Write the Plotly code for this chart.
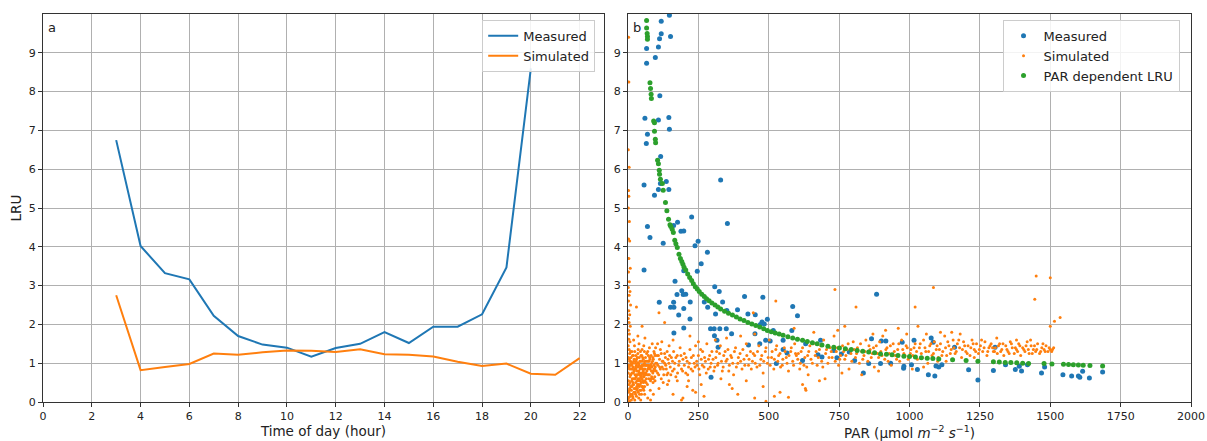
import plotly.graph_objects as go

# ---------------- Panel a data ----------------
hours_measured = [3, 4, 5, 6, 7, 8, 9, 10, 11, 12, 13, 14, 15, 16, 17, 18, 19, 20]
lru_measured_hourly = [6.75, 4.02, 3.32, 3.16, 2.22, 1.70, 1.48, 1.40, 1.17, 1.39, 1.50, 1.80,
                       1.52, 1.94, 1.94, 2.26, 3.47, 8.60]
hours_simulated = [3, 4, 5, 6, 7, 8, 9, 10, 11, 12, 13, 14, 15, 16, 17, 18, 19, 20, 21, 22]
lru_simulated_hourly = [2.75, 0.82, 0.90, 0.98, 1.25, 1.22, 1.28, 1.33, 1.32, 1.29, 1.36, 1.23,
                        1.22, 1.17, 1.04, 0.93, 0.99, 0.73, 0.70, 1.13]

# ---------------- Panel b data ----------------
measured_points = [
    (147, 9.97), (118, 9.81), (118, 9.49), (151, 9.42), (112, 9.36), (108, 9.15), (66, 9.11),
    (97, 8.88), (66, 8.73), (113, 7.89), (60, 7.31), (145, 7.33), (108, 7.27), (147, 7.03),
    (69, 6.90), (65, 6.66), (116, 6.33), (329, 5.72), (57, 5.59), (136, 5.68), (115, 5.63),
    (108, 5.48), (145, 5.48), (94, 5.33), (353, 4.60), (226, 4.77), (69, 4.52), (176, 4.63),
    (162, 4.55), (188, 4.40), (198, 4.41), (78, 4.24), (125, 4.09), (249, 4.14), (238, 4.03),
    (57, 3.40), (282, 3.86), (260, 3.56), (198, 3.38), (246, 3.37), (167, 3.11), (308, 2.97),
    (324, 2.85), (191, 2.87), (174, 2.77), (196, 2.77), (205, 2.78), (479, 2.70), (414, 2.72),
    (883, 2.78), (111, 2.57), (162, 2.57), (271, 2.58), (336, 2.58), (221, 2.58), (151, 2.44),
    (163, 2.44), (283, 2.44), (585, 2.46), (198, 2.41), (389, 2.38), (180, 2.24), (311, 2.27),
    (351, 2.36), (426, 2.27), (452, 2.25), (602, 2.22), (220, 2.14), (495, 2.13), (476, 2.06),
    (484, 2.01), (470, 2.00), (163, 1.78), (198, 1.91), (293, 1.89), (306, 1.89), (326, 1.89),
    (349, 1.89), (307, 1.71), (368, 1.76), (451, 1.76), (516, 1.84), (582, 1.84), (489, 1.59),
    (468, 1.50), (505, 1.57), (316, 1.59), (320, 1.41), (428, 1.47), (551, 1.59), (684, 1.59),
    (865, 1.63), (900, 1.57), (916, 1.57), (974, 1.54), (1016, 1.59), (1077, 1.65), (1084, 1.54),
    (1160, 1.41), (1304, 1.41), (295, 0.64), (836, 0.75), (1210, 0.83), (1243, 0.57), (1298, 0.81),
    (1376, 0.84), (1398, 0.80), (1469, 0.75), (1480, 0.90), (1545, 0.70), (1576, 0.67), (1600, 0.67),
    (1605, 0.64), (1615, 0.79), (1639, 0.62), (1686, 0.77), (1067, 0.70), (1090, 0.67), (1028, 0.84),
    (979, 0.87), (933, 1.00), (897, 0.99), (855, 0.99), (805, 1.07), (742, 1.14), (675, 1.22),
    (758, 1.24), (689, 1.16), (565, 1.26), (620, 1.07), (527, 0.99), (980, 0.92), (1007, 0.96),
    (1104, 0.90), (1115, 0.96), (1094, 0.93), (1341, 0.96), (1390, 0.92), (1419, 0.96), (731, 1.33),
    (786, 1.29), (631, 1.50), (551, 1.35),
]

simulated_points = [
    # strip along the axis
    (2, 9.4), (3, 8.25), (1, 6.5), (4, 6.05), (2, 5.45), (3, 5.3), (1, 5.0), (5, 4.65), (2, 4.2),
    (6, 4.15), (3, 3.7), (8, 3.45), (2, 3.35), (5, 3.1), (1, 2.95), (7, 2.85), (4, 2.75), (2, 2.6),
    (9, 2.5), (3, 2.35), (6, 2.25), (1, 2.15), (4, 2.05), (8, 1.95), (2, 1.85), (5, 1.75), (3, 1.62),
    (7, 1.55), (1, 1.45), (4, 1.35), (6, 1.25), (2, 1.15), (9, 1.05), (3, 0.95), (5, 0.85), (1, 0.75),
    (7, 0.65), (2, 0.55), (4, 0.45), (6, 0.35), (3, 0.25), (8, 0.15), (1, 0.08), (5, 0.02),
    # 10-100
    (12, 0.3), (15, 0.6), (18, 0.9), (20, 0.45), (22, 1.1), (25, 0.7), (27, 0.2), (30, 0.95), (32, 0.55),
    (35, 1.25), (38, 0.8), (40, 0.4), (42, 1.05), (45, 0.65), (48, 0.9), (50, 1.35), (52, 0.75),
    (55, 0.5), (58, 1.0), (60, 0.85), (62, 1.15), (65, 0.6), (68, 0.95), (70, 1.3), (72, 0.7),
    (75, 1.05), (78, 0.85), (80, 0.55), (82, 1.2), (85, 0.9), (88, 0.75), (90, 1.1), (92, 0.95),
    (95, 0.65), (98, 1.4), (14, 1.3), (16, 0.15), (19, 0.75), (23, 1.45), (26, 0.35), (29, 0.65),
    (33, 1.15), (36, 0.25), (39, 1.5), (43, 0.85), (46, 0.3), (49, 1.2), (53, 0.95), (56, 1.45),
    (59, 0.4), (63, 0.75), (66, 1.25), (69, 0.45), (73, 0.9), (76, 1.4), (79, 0.3), (83, 0.8),
    (86, 1.5), (89, 0.5), (93, 0.85), (96, 1.2), (11, 0.85), (13, 0.55), (17, 1.0), (21, 0.25),
    (24, 0.85), (28, 1.2), (31, 0.4), (34, 0.7), (37, 1.0), (41, 0.6), (44, 1.3), (47, 0.5),
    (51, 1.05), (54, 0.8), (57, 0.65), (61, 1.05), (64, 0.95), (67, 0.8), (71, 1.05), (74, 0.6),
    (77, 1.15), (81, 0.95), (84, 0.65), (87, 1.05), (91, 0.8), (94, 1.25), (97, 0.9), (20, 1.6),
    (35, 1.7), (60, 1.65), (45, 0.05), (70, 0.1), (90, 0.2), (30, 2.45), (50, 1.95), (80, 0.05),
    # dense corner
    (3, 0.12), (5, 0.3), (7, 0.5), (9, 0.2), (10, 0.7), (12, 0.05), (14, 0.4), (16, 0.85), (18, 0.1),
    (20, 0.6), (22, 0.35), (24, 0.05), (26, 1.0), (28, 0.5), (30, 0.15), (32, 0.8), (34, 0.45),
    (36, 0.6), (38, 0.1), (40, 0.95), (42, 0.3), (44, 0.55), (46, 0.75), (48, 0.2), (50, 0.6),
    (52, 0.4), (54, 1.1), (56, 0.3), (58, 0.75), (60, 0.55), (4, 0.9), (6, 1.05), (8, 0.7),
    (11, 1.15), (13, 0.95), (15, 0.2), (17, 0.45), (19, 1.2), (21, 0.8), (23, 0.6), (25, 0.25),
    (27, 0.9), (29, 1.05), (31, 0.7), (33, 0.35), (35, 0.9), (37, 0.45), (39, 0.75), (41, 0.2),
    (43, 0.45), (45, 1.05), (47, 0.7), (49, 0.4), (51, 0.85), (53, 0.55), (55, 0.7), (57, 0.95),
    (59, 0.2),
    (5, 1.1), (7, 0.95), (9, 1.3), (10, 0.4), (12, 1.0), (14, 0.75), (16, 1.2), (18, 0.5), (20, 1.05),
    (22, 0.8), (24, 1.3), (26, 0.6), (28, 0.85), (30, 1.1), (32, 0.3), (34, 1.0), (36, 1.35),
    (38, 0.55), (40, 1.15), (42, 0.7), (44, 0.9), (46, 1.2), (48, 0.65), (50, 0.95), (52, 1.15),
    (54, 0.35), (56, 0.85), (58, 1.3), (60, 0.7), (62, 0.95), (64, 0.5), (66, 1.05), (68, 0.7),
    (70, 0.85), (72, 1.2), (74, 0.95), (76, 0.7), (78, 1.1), (80, 0.9), (82, 0.6), (84, 1.0),
    (86, 0.8), (88, 1.15), (90, 0.6), (92, 1.3), (94, 0.85), (96, 0.55), (98, 1.0), (100, 0.8),
    (103, 1.2), (106, 0.95), (109, 0.7), (112, 1.1), (115, 0.85), (118, 1.25), (121, 0.9),
    (124, 1.05), (127, 0.7), (130, 1.0), (133, 1.15), (136, 0.85), (139, 1.3), (142, 0.75),
    (145, 1.0), (148, 1.2),
    # 100-300
    (102, 1.0), (105, 0.75), (108, 1.2), (112, 0.9), (115, 1.35), (118, 0.6), (122, 1.05), (126, 0.85),
    (130, 1.25), (134, 0.95), (138, 0.7), (142, 1.1), (146, 1.45), (150, 0.9), (154, 1.15), (158, 0.8),
    (162, 1.3), (166, 1.0), (170, 0.65), (175, 1.2), (180, 0.95), (185, 1.4), (190, 0.85), (195, 1.1),
    (200, 1.25), (205, 0.75), (210, 1.05), (215, 0.9), (220, 1.35), (225, 1.15), (230, 0.8), (235, 1.0),
    (240, 1.45), (245, 0.95), (250, 1.2), (255, 0.7), (260, 1.1), (265, 1.3), (270, 0.9), (275, 1.05),
    (280, 1.5), (285, 0.85), (290, 1.2), (295, 1.0), (110, 0.35), (125, 0.5), (140, 0.45), (160, 0.2),
    (175, 0.55), (195, 0.1), (210, 0.4), (230, 0.3), (260, 0.45), (270, 0.15), (160, 1.6), (220, 1.7),
    (250, 1.55), (110, 2.3), (130, 2.05), (190, 0.05), (240, 0.25), (215, 0.55), (105, 1.5), (120, 1.55),
    (145, 0.55),
    (152, 0.7), (158, 1.05), (164, 0.85), (170, 1.15), (176, 0.75), (182, 1.05), (188, 1.2), (194, 0.8),
    (200, 0.95), (206, 1.15), (212, 0.7), (218, 1.0), (224, 0.85), (232, 1.2), (238, 0.9), (244, 1.05),
    (252, 0.85), (258, 1.35), (264, 0.95), (272, 1.15), (278, 0.75), (286, 1.1), (292, 0.9), (298, 1.3),
    # 300-600
    (302, 1.1), (308, 0.9), (315, 1.3), (320, 1.0), (328, 1.45), (335, 0.8), (340, 1.2), (348, 1.05),
    (355, 1.35), (360, 0.95), (368, 1.15), (375, 0.7), (382, 1.4), (390, 1.0), (398, 1.25), (405, 0.85),
    (412, 1.1), (420, 1.5), (428, 0.95), (435, 1.3), (442, 1.05), (450, 1.2), (458, 0.9), (465, 1.45),
    (472, 1.1), (480, 0.75), (488, 1.3), (495, 1.0), (502, 1.6), (510, 1.15), (518, 0.85), (525, 1.35),
    (532, 1.05), (540, 1.25), (548, 0.95), (555, 1.4), (562, 1.15), (570, 0.8), (578, 1.3), (585, 1.05),
    (592, 1.5), (598, 1.2), (310, 1.6), (350, 1.65), (400, 1.7), (450, 1.75), (330, 0.6), (370, 0.35),
    (390, 0.2), (450, 0.1), (490, 0.02), (520, 0.15), (540, 0.25), (570, 0.12), (630, 0.35), (632, 0.3),
    (480, 0.4), (420, 0.55), (360, 0.45), (525, 2.6), (445, 2.3), (590, 1.9),
    (305, 0.8), (312, 1.15), (318, 0.95), (325, 1.25), (332, 1.05), (338, 0.9), (345, 1.3), (352, 1.1),
    (358, 0.8), (365, 1.2), (372, 1.0), (378, 1.3), (385, 0.9), (392, 1.15), (400, 1.05), (408, 1.35),
    (415, 0.95), (422, 1.2), (430, 1.1), (438, 0.85), (445, 1.25), (452, 1.0), (460, 1.3), (468, 0.95),
    (475, 1.2), (482, 1.05), (490, 1.4), (498, 1.15), (505, 0.95), (512, 1.3), (520, 1.1), (528, 1.45),
    (535, 1.2), (542, 0.9), (550, 1.1), (558, 1.3), (565, 1.0), (572, 1.2), (580, 1.4), (588, 0.95),
    (595, 1.25),
    # 600-1000
    (605, 1.25), (612, 1.0), (620, 1.4), (628, 1.15), (635, 0.9), (642, 1.3), (650, 1.1), (658, 1.5),
    (665, 1.2), (672, 0.95), (680, 1.35), (688, 1.05), (695, 1.6), (702, 1.25), (710, 1.0), (718, 1.4),
    (725, 1.15), (732, 1.7), (740, 1.3), (748, 0.95), (755, 1.2), (762, 1.45), (770, 1.1), (778, 1.35),
    (785, 0.85), (792, 1.25), (800, 1.55), (808, 1.15), (815, 1.4), (822, 1.0), (830, 1.3), (838, 1.2),
    (845, 1.6), (852, 1.05), (860, 1.35), (868, 1.25), (875, 0.9), (882, 1.45), (890, 1.15), (898, 1.3),
    (905, 1.7), (912, 1.1), (920, 1.4), (928, 1.25), (935, 0.95), (942, 1.5), (950, 1.2), (958, 1.35),
    (965, 1.05), (972, 1.6), (980, 1.25), (988, 1.45), (995, 1.1), (640, 0.7), (700, 0.6), (760, 0.75),
    (620, 0.45), (680, 0.55), (830, 0.7), (890, 0.8), (660, 1.8), (745, 1.85), (735, 2.9), (810, 2.45),
    (770, 1.95), (915, 1.85), (960, 1.9), (870, 1.75), (990, 1.75), (610, 0.85),
    (603, 1.1), (615, 1.3), (625, 0.95), (638, 1.2), (646, 1.45), (655, 1.0), (668, 1.3), (676, 1.15),
    (685, 1.45), (692, 0.9), (705, 1.35), (714, 1.15), (722, 1.3), (736, 1.05), (744, 1.4), (752, 1.1),
    (766, 1.3), (774, 1.2), (782, 1.5), (795, 1.05), (804, 1.35), (812, 1.25), (826, 1.5), (834, 1.1),
    (842, 1.3), (856, 1.45), (864, 1.15), (872, 1.4), (886, 1.25), (894, 1.55), (902, 1.2), (916, 1.35),
    (924, 1.05), (932, 1.45), (946, 1.3), (954, 1.1), (962, 1.5), (976, 1.35), (984, 1.2), (992, 1.4),
    # 1000-1300
    (1005, 1.35), (1012, 1.2), (1020, 1.5), (1028, 1.1), (1035, 1.4), (1042, 1.25), (1050, 1.6),
    (1058, 1.3), (1065, 1.0), (1072, 1.45), (1080, 1.2), (1088, 1.55), (1095, 1.35), (1102, 1.15),
    (1110, 1.5), (1118, 1.3), (1125, 1.7), (1132, 1.2), (1140, 1.45), (1148, 1.35), (1155, 1.6),
    (1162, 1.25), (1170, 1.5), (1178, 1.4), (1185, 1.15), (1192, 1.55), (1200, 1.3), (1208, 1.45),
    (1215, 1.2), (1222, 1.6), (1230, 1.35), (1238, 1.5), (1245, 1.25), (1252, 1.45), (1260, 1.3),
    (1268, 1.55), (1275, 1.2), (1282, 1.4), (1290, 1.5), (1298, 1.3), (1085, 2.95), (1020, 2.45),
    (1030, 1.95), (1060, 1.75), (1110, 1.8), (1150, 1.8), (1180, 1.75), (1010, 0.85), (1050, 0.9),
    (1100, 1.05), (1230, 1.15), (1130, 1.05),
    (1003, 1.25), (1016, 1.4), (1025, 1.3), (1038, 1.5), (1046, 1.15), (1055, 1.4), (1068, 1.3),
    (1076, 1.5), (1085, 1.25), (1098, 1.45), (1106, 1.35), (1115, 1.2), (1128, 1.4), (1136, 1.55),
    (1145, 1.25), (1158, 1.4), (1166, 1.3), (1175, 1.6), (1188, 1.35), (1196, 1.45), (1205, 1.25),
    (1218, 1.4), (1226, 1.5), (1235, 1.3), (1248, 1.35), (1256, 1.6), (1265, 1.4), (1278, 1.3),
    (1286, 1.45), (1295, 1.4),
    # 1300-1540
    (1305, 1.4), (1312, 1.25), (1320, 1.5), (1328, 1.35), (1335, 1.2), (1342, 1.45), (1350, 1.3),
    (1358, 1.55), (1365, 1.4), (1372, 1.25), (1380, 1.35), (1388, 1.5), (1395, 1.2), (1402, 1.4),
    (1410, 1.3), (1418, 1.55), (1425, 1.25), (1432, 1.45), (1440, 1.35), (1448, 1.3), (1455, 1.5),
    (1462, 1.25), (1470, 1.4), (1478, 1.35), (1485, 1.45), (1492, 1.3), (1500, 1.35), (1508, 1.35),
    (1450, 3.25), (1500, 3.2), (1445, 2.65), (1500, 1.95), (1515, 2.08), (1535, 2.18), (1310, 1.65),
    (1380, 1.6), (1430, 1.6),
    (1302, 1.3), (1316, 1.45), (1324, 1.3), (1332, 1.5), (1346, 1.35), (1354, 1.25), (1362, 1.5),
    (1376, 1.4), (1384, 1.3), (1392, 1.45), (1406, 1.35), (1414, 1.45), (1422, 1.35), (1436, 1.25),
    (1444, 1.45), (1452, 1.35), (1466, 1.3), (1474, 1.5), (1482, 1.3), (1496, 1.4), (1505, 1.3),
    (1512, 1.4),
]

par_dependent_points = [
    (66, 9.83), (66, 9.64), (68, 9.50), (69, 9.42), (69, 9.35), (78, 8.23), (80, 8.08), (82, 7.93),
    (83, 7.82), (91, 7.24), (94, 7.20), (94, 6.98), (97, 6.77), (98, 6.68), (105, 6.23), (108, 6.14),
    (111, 5.97), (112, 5.87), (115, 5.74), (122, 5.63), (125, 5.46), (133, 5.14), (138, 4.93),
    (144, 4.71), (149, 4.57), (152, 4.52), (157, 4.45), (161, 4.37), (166, 4.17), (170, 4.08),
    (175, 3.98), (181, 3.81), (186, 3.70), (191, 3.62), (195, 3.55), (199, 3.47), (205, 3.40),
    (212, 3.30), (219, 3.21), (226, 3.13), (232, 3.05), (239, 2.97), (246, 2.91), (253, 2.85),
    (262, 2.78), (271, 2.72), (279, 2.66), (288, 2.61), (298, 2.55), (309, 2.50), (319, 2.45),
    (329, 2.40), (343, 2.34), (357, 2.29), (371, 2.24), (385, 2.19), (398, 2.14), (412, 2.10),
    (426, 2.05), (440, 2.01), (454, 1.97), (468, 1.93), (482, 1.89), (495, 1.84), (509, 1.81),
    (523, 1.78), (537, 1.75), (551, 1.72), (568, 1.68), (585, 1.65), (602, 1.62), (620, 1.59),
    (637, 1.56), (655, 1.53), (672, 1.50), (689, 1.47), (710, 1.44), (731, 1.41), (751, 1.39),
    (772, 1.37), (793, 1.35), (814, 1.33), (834, 1.31), (855, 1.29), (876, 1.27), (897, 1.24),
    (918, 1.23), (938, 1.22), (959, 1.20), (980, 1.18), (1000, 1.17), (1021, 1.16), (1042, 1.14),
    (1063, 1.13), (1083, 1.12), (1104, 1.11), (1153, 1.09), (1201, 1.07), (1243, 1.05), (1298, 1.04),
    (1319, 1.03), (1340, 1.02), (1360, 1.015), (1381, 1.01), (1402, 1.00), (1423, 0.99), (1478, 0.99),
    (1506, 0.98), (1547, 0.97), (1565, 0.965), (1582, 0.96), (1600, 0.955), (1617, 0.95), (1641, 0.94),
    (1686, 0.93),
]

hour_ticks = [0, 2, 4, 6, 8, 10, 12, 14, 16, 18, 20, 22]
par_ticks = [0, 250, 500, 750, 1000, 1250, 1500, 1750, 2000]
lru_ticks = [0, 1, 2, 3, 4, 5, 6, 7, 8, 9]

BLUE, ORANGE, GREEN = "#1f77b4", "#ff7f0e", "#2ca02c"
FONT = "DejaVu Sans"

fig = go.Figure()

fig.add_trace(go.Scatter(x=hours_measured, y=lru_measured_hourly, mode="lines", name="Measured",
                         line=dict(color=BLUE, width=2), xaxis="x", yaxis="y", legend="legend"))
fig.add_trace(go.Scatter(x=hours_simulated, y=lru_simulated_hourly, mode="lines", name="Simulated",
                         line=dict(color=ORANGE, width=2), xaxis="x", yaxis="y", legend="legend"))

fig.add_trace(go.Scatter(x=[p[0] for p in measured_points], y=[p[1] for p in measured_points],
                         mode="markers", name="Measured", marker=dict(color=BLUE, size=5),
                         xaxis="x2", yaxis="y2", legend="legend2"))
fig.add_trace(go.Scatter(x=[p[0] for p in simulated_points], y=[p[1] for p in simulated_points],
                         mode="markers", name="Simulated", marker=dict(color=ORANGE, size=3),
                         xaxis="x2", yaxis="y2", legend="legend2"))
fig.add_trace(go.Scatter(x=[p[0] for p in par_dependent_points], y=[p[1] for p in par_dependent_points],
                         mode="markers", name="PAR dependent LRU", marker=dict(color=GREEN, size=5),
                         xaxis="x2", yaxis="y2", legend="legend2"))

axis_common = dict(showgrid=True, gridcolor="#b0b0b0", gridwidth=0.8, showline=True,
                   linecolor="#333333", linewidth=1, mirror=True, ticks="outside", ticklen=4,
                   tickcolor="#333333", tickfont=dict(family=FONT, size=11, color="#222"),
                   zeroline=False, automargin=False)

fig.update_layout(
    width=1207, height=441,
    margin=dict(l=43, r=16, t=14, b=39),
    plot_bgcolor="white", paper_bgcolor="white",
    font=dict(family=FONT, color="#222"),
    xaxis=dict(domain=[0, 0.4887], range=[0, 23], tickvals=hour_ticks, anchor="y",
               title=dict(text="Time of day (hour)", font=dict(size=13.5), standoff=2), **axis_common),
    yaxis=dict(domain=[0, 1], range=[0, 10], tickvals=lru_ticks, anchor="x",
               title=dict(text="LRU", font=dict(size=13.5), standoff=4), **axis_common),
    xaxis2=dict(domain=[0.5096, 1], range=[0, 2000], tickvals=par_ticks, anchor="y2",
                title=dict(text="PAR (μmol <i>m</i><sup>−2</sup> <i>s</i><sup>−1</sup>)",
                           font=dict(size=13.5), standoff=2), **axis_common),
    yaxis2=dict(domain=[0, 1], range=[0, 10], tickvals=lru_ticks, anchor="x2", **axis_common),
    legend=dict(x=0.481, y=0.985, xanchor="right", yanchor="top", bgcolor="rgba(255,255,255,0.85)",
                bordercolor="#cccccc", borderwidth=1, font=dict(family=FONT, size=13)),
    legend2=dict(x=0.99, y=0.985, xanchor="right", yanchor="top", bgcolor="rgba(255,255,255,0.85)",
                 bordercolor="#cccccc", borderwidth=1, font=dict(family=FONT, size=13)),
    annotations=[
        dict(text="a", xref="x domain", yref="y domain", x=0.005, y=0.99, showarrow=False,
             xanchor="left", yanchor="top", font=dict(family=FONT, size=13)),
        dict(text="b", xref="x2 domain", yref="y2 domain", x=0.005, y=0.99, showarrow=False,
             xanchor="left", yanchor="top", font=dict(family=FONT, size=13)),
    ],
)

# Remove the default page margin so the 1207x441 figure fills the window exactly.
fig.write_html("out.html", config={"displayModeBar": False},
               post_script="document.body.style.margin='0';document.body.style.overflow='hidden';")
